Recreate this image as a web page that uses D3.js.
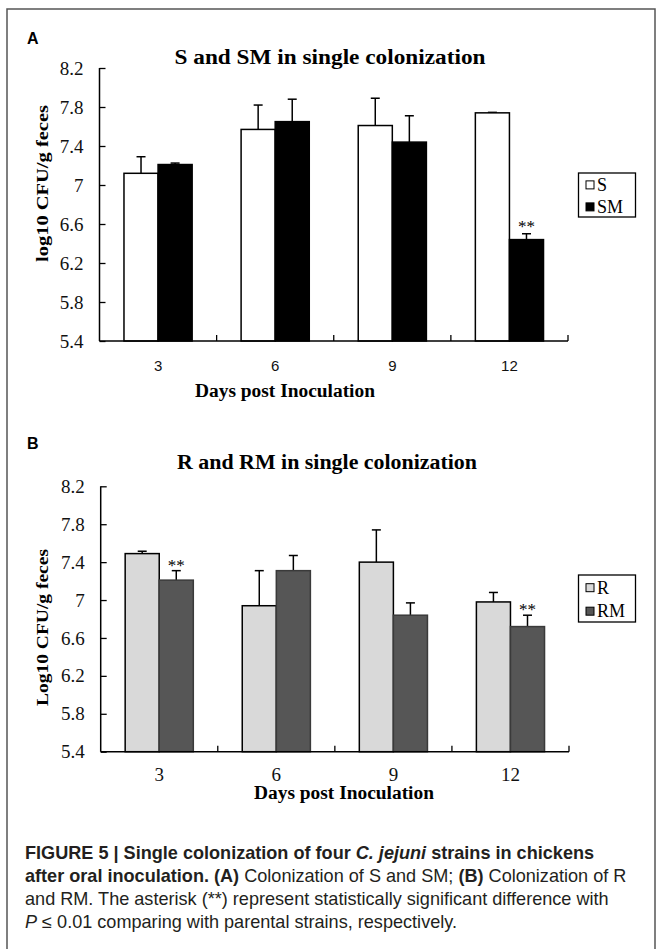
<!DOCTYPE html>
<html>
<head>
<meta charset="utf-8">
<script src="https://cdn.jsdelivr.net/npm/d3@7"></script>
<style>
  body { margin: 0; background: #fff; }
  svg { display: block; }
</style>
</head>
<body>
<svg id="fig" width="657" height="949"></svg>
<script>
// data
var days = ['3', '6', '9', '12'];
var yTicks = [5.4, 5.8, 6.2, 6.6, 7, 7.4, 7.8, 8.2];

// panel A
var sMean = [7.12, 7.57, 7.61, 7.74];
var sErr = [0.17, 0.25, 0.28, 0.005];
var smMean = [7.21, 7.65, 7.44, 6.44];
var smErr = [0.015, 0.23, 0.27, 0.06];
var smSig = [false, false, false, true];

// panel B
var rMean = [7.49, 6.94, 7.40, 6.98];
var rErr = [0.025, 0.37, 0.34, 0.10];
var rmMean = [7.21, 7.31, 6.84, 6.72];
var rmErr = [0.10, 0.16, 0.13, 0.12];
var rmSig = [true, false, false, true];

var svg = d3.select('#fig');
var serif = "'Liberation Serif', 'Times New Roman', serif";
var sans = "'Liberation Sans', Arial, sans-serif";

// outer frame (open at the bottom, cropped)
svg.append('path')
  .attr('d', 'M7,960 L7,9 L655,9 L655,960')
  .attr('fill', 'none')
  .attr('stroke', '#555')
  .attr('stroke-width', 1.5);

function drawPanel (p) {
  var g = svg.append('g');

  var x0 = d3.scaleBand().domain(days).range([p.left, p.right]);
  var bw = x0.bandwidth();
  var x1 = d3.scaleBand().domain([0, 1]).range([bw * 0.209, bw * 0.791]);
  var y = d3.scaleLinear().domain([5.4, 8.2]).range([p.bottom, p.top]);

  // panel letter + title
  g.append('text')
    .attr('x', 27).attr('y', p.letterY)
    .attr('font-family', sans).attr('font-weight', 'bold').attr('font-size', 16)
    .text(p.letter);
  g.append('text')
    .attr('x', p.titleX - p.titleW / 2).attr('y', p.titleY)
    .attr('font-family', serif).attr('font-weight', 'bold').attr('font-size', 20)
    .attr('textLength', p.titleW).attr('lengthAdjust', 'spacingAndGlyphs')
    .text(p.title);

  // y axis, ticks inside
  var yAxis = d3.axisLeft(y).tickValues(yTicks).tickSize(-6).tickPadding(16)
    .tickFormat(function (d) { return d3.format('')(d); });
  var ya = g.append('g').attr('transform', 'translate(' + p.left + ',0)').call(yAxis);
  ya.select('.domain').attr('d', 'M0,' + p.top + 'V' + p.bottom).attr('stroke-width', 1.5);
  ya.selectAll('.tick line').attr('stroke-width', 1.3);
  ya.selectAll('text').attr('font-family', serif).attr('font-size', 19).attr('fill', '#111');

  // series
  var series = [
    { mean: p.aMean, err: p.aErr, fill: p.aFill, stroke: '#000', sig: null },
    { mean: p.bMean, err: p.bErr, fill: p.bFill, stroke: p.bStroke, sig: p.bSig }
  ];
  series.forEach(function (s, si) {
    var bars = g.append('g');
    days.forEach(function (d, i) {
      var bx = x0(d) + x1(si);
      var cx = bx + x1.bandwidth() / 2;
      var top = y(s.mean[i]);
      var et = y(s.mean[i] + s.err[i]);
      bars.append('line')
        .attr('x1', cx).attr('x2', cx).attr('y1', top).attr('y2', et)
        .attr('stroke', '#000').attr('stroke-width', 1.5);
      bars.append('line')
        .attr('x1', cx - 4.5).attr('x2', cx + 4.5).attr('y1', et).attr('y2', et)
        .attr('stroke', '#000').attr('stroke-width', 1.5);
      bars.append('rect')
        .attr('x', bx).attr('y', top)
        .attr('width', x1.bandwidth()).attr('height', p.bottom - top)
        .attr('fill', s.fill).attr('stroke', s.stroke).attr('stroke-width', 1.5);
      if (s.sig && s.sig[i]) {
        bars.append('text')
          .attr('x', cx).attr('y', et + p.starDy)
          .attr('text-anchor', 'middle')
          .attr('font-family', serif).attr('font-size', 17)
          .text('**');
      }
    });
  });

  // x axis with boundary ticks pointing up
  g.append('line')
    .attr('x1', p.left).attr('x2', p.right).attr('y1', p.bottom).attr('y2', p.bottom)
    .attr('stroke', '#000').attr('stroke-width', 1.5);
  var bounds = days.map(function (d) { return x0(d); }).concat([p.right]);
  g.selectAll(null).data(bounds.slice(1)).enter().append('line')
    .attr('x1', function (d) { return d; }).attr('x2', function (d) { return d; })
    .attr('y1', p.bottom).attr('y2', p.bottom - 6)
    .attr('stroke', '#000').attr('stroke-width', 1.3);
  g.selectAll(null).data(days).enter().append('text')
    .attr('x', function (d) { return x0(d) + bw / 2; })
    .attr('y', p.xTickY)
    .attr('text-anchor', 'middle')
    .attr('font-family', p.xTickFont).attr('font-size', p.xTickSize)
    .attr('fill', '#111')
    .text(function (d) { return d; });

  // axis titles
  g.append('text')
    .attr('x', p.xLabelX - 90).attr('y', p.xLabelY)
    .attr('font-family', serif).attr('font-weight', 'bold').attr('font-size', 18.5)
    .attr('textLength', 180).attr('lengthAdjust', 'spacingAndGlyphs')
    .text('Days post Inoculation');
  g.append('text')
    .attr('transform', 'translate(48,' + (p.yLabelC + 78) + ') rotate(-90)')
    .attr('font-family', serif).attr('font-weight', 'bold').attr('font-size', 17)
    .attr('textLength', 157).attr('lengthAdjust', 'spacingAndGlyphs')
    .text(p.yLabel);

  // legend
  var lg = g.append('g');
  lg.append('rect')
    .attr('x', 578.5).attr('y', p.legTop)
    .attr('width', 57).attr('height', p.legH)
    .attr('fill', '#fff').attr('stroke', '#000').attr('stroke-width', 1.3);
  p.legNames.forEach(function (n, i) {
    var cy = p.legTop + p.legH * (0.27 + 0.5 * i);
    lg.append('rect')
      .attr('x', 586).attr('y', cy - 4).attr('width', 8).attr('height', 8)
      .attr('fill', series[i].fill).attr('stroke', '#000').attr('stroke-width', 1);
    lg.append('text')
      .attr('x', 597).attr('y', cy + 6)
      .attr('font-family', serif).attr('font-size', 18)
      .text(n);
  });
}

drawPanel({
  letter: 'A', letterY: 44,
  title: 'S and SM in single colonization', titleX: 330, titleY: 64, titleW: 311,
  left: 99.5, right: 568, top: 68, bottom: 341,
  aMean: sMean, aErr: sErr, aFill: '#fff',
  bMean: smMean, bErr: smErr, bFill: '#000', bStroke: '#000', bSig: smSig, starDy: -2,
  xTickY: 371, xTickFont: sans, xTickSize: 15,
  xLabelX: 285, xLabelY: 397,
  yLabel: 'log10 CFU/g feces', yLabelC: 184,
  legTop: 173, legH: 44, legNames: ['S', 'SM']
});

drawPanel({
  letter: 'B', letterY: 449,
  title: 'R and RM in single colonization', titleX: 327, titleY: 469, titleW: 300,
  left: 100.7, right: 569, top: 486.3, bottom: 751.7,
  aMean: rMean, aErr: rErr, aFill: '#d9d9d9',
  bMean: rmMean, bErr: rmErr, bFill: '#565656', bStroke: '#3a3a3a', bSig: rmSig, starDy: 0,
  xTickY: 781, xTickFont: serif, xTickSize: 19,
  xLabelX: 344, xLabelY: 799,
  yLabel: 'Log10 CFU/g feces', yLabelC: 628,
  legTop: 575, legH: 47, legNames: ['R', 'RM']
});

// caption
var cap = svg.append('g')
  .attr('font-family', sans).attr('font-size', 18.1).attr('fill', '#231f20');
var lines = [
  [['FIGURE 5 | Single colonization of four ', 'b'], ['C. jejuni', 'bi'], [' strains in chickens', 'b']],
  [['after oral inoculation. ', 'b'], ['(A)', 'b'], [' Colonization of S and SM; ', 'n'], ['(B)', 'b'], [' Colonization of R', 'n']],
  [['and RM. The asterisk (**) represent statistically significant difference with', 'n']],
  [['P', 'i'], [' \u2264 0.01 comparing with parental strains, respectively.', 'n']]
];
var lineY = [859, 882, 905, 928];
lines.forEach(function (parts, li) {
  var t = cap.append('text').attr('x', 25).attr('y', lineY[li]).attr('xml:space', 'preserve');
  parts.forEach(function (pt) {
    t.append('tspan')
      .attr('font-weight', pt[1].indexOf('b') >= 0 ? 'bold' : 'normal')
      .attr('font-style', pt[1].indexOf('i') >= 0 ? 'italic' : 'normal')
      .text(pt[0]);
  });
});
</script>
</body>
</html>
